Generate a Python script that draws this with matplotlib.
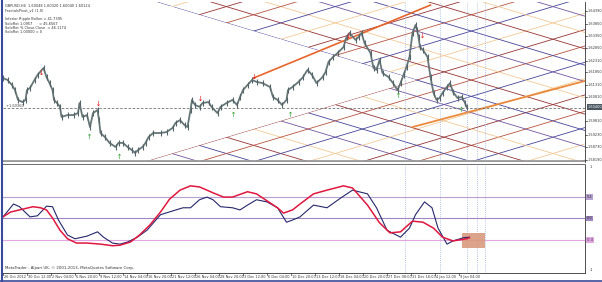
import matplotlib
matplotlib.use("Agg")
import matplotlib.pyplot as plt
import numpy as np
from matplotlib.patches import Rectangle, Polygon
from matplotlib.transforms import blended_transform_factory

# ---------------- data ----------------
price_bar = [0, 3, 6, 8, 10, 13, 15, 16, 18, 21, 23, 27, 29, 31, 33, 34, 36, 38, 39, 43,
             47, 50, 51, 53, 56, 58, 60, 63, 64, 65, 68, 71, 75, 77, 80, 83, 86, 88, 90, 93,
             95, 97, 100, 105, 109, 113, 115, 118, 121, 123, 125, 126, 128, 131, 133, 137, 139, 143, 145, 149,
             153, 156, 158, 160, 163, 166, 169, 173, 178, 180, 183, 186, 189, 190, 193, 197, 200, 203, 206, 209,
             213, 215, 217, 220, 223, 227, 229, 231, 235, 237, 239, 241, 245, 247, 249, 251, 253, 257, 260, 263,
             265, 267, 269, 271, 273, 275, 276, 277, 278, 280, 283, 285, 287, 289, 291, 293, 296, 298, 300, 303,
             306, 308, 309]
price_close = [1.6160, 1.6152, 1.6131, 1.6110, 1.6069, 1.6060, 1.6069, 1.6110, 1.6119, 1.6152,
               1.6173, 1.6202, 1.6164, 1.6139, 1.6110, 1.6069, 1.6056, 1.6040, 1.5998, 1.6006,
               1.6006, 1.6014, 1.6056, 1.5998, 1.6006, 1.5956, 1.6014, 1.6027, 1.5985, 1.5931,
               1.5914, 1.5890, 1.5873, 1.5890, 1.5890, 1.5873, 1.5860, 1.5848, 1.5860, 1.5873,
               1.5890, 1.5914, 1.5931, 1.5931, 1.5935, 1.5952, 1.5973, 1.5985, 1.5964, 1.5956,
               1.6027, 1.6069, 1.6048, 1.6040, 1.6056, 1.6060, 1.6040, 1.6014, 1.6040, 1.6056,
               1.6069, 1.6048, 1.6081, 1.6110, 1.6131, 1.6152, 1.6144, 1.6139, 1.6123, 1.6081,
               1.6069, 1.6048, 1.6069, 1.6110, 1.6123, 1.6144, 1.6164, 1.6194, 1.6173, 1.6139,
               1.6164, 1.6185, 1.6227, 1.6248, 1.6264, 1.6289, 1.6331, 1.6348, 1.6319, 1.6331,
               1.6348, 1.6306, 1.6264, 1.6202, 1.6194, 1.6235, 1.6181, 1.6164, 1.6139, 1.6110,
               1.6139, 1.6173, 1.6206, 1.6248, 1.6348, 1.6381, 1.6360, 1.6331, 1.6289, 1.6277,
               1.6248, 1.6164, 1.6098, 1.6069, 1.6077, 1.6098, 1.6123, 1.6139, 1.6102, 1.6077,
               1.6081, 1.6056, 1.6040]

osc_red_bar = [0, 5, 11, 20, 25, 29, 33, 38, 43, 49, 56, 65, 73, 78, 85, 91, 98, 105, 111, 118,
               125, 131, 140, 147, 153, 163, 169, 176, 183, 187, 193, 198, 207, 216, 227, 233, 243, 251, 258, 265,
               273, 280, 287, 293, 300, 309, 311]
osc_red = [0.03, 0.12, 0.16, 0.22, 0.20, 0.16, 0.01, -0.22, -0.38, -0.46, -0.46, -0.48, -0.51, -0.50, -0.44,
           -0.31, -0.12, 0.12, 0.36, 0.53, 0.61, 0.59, 0.48, 0.40, 0.40, 0.50, 0.46, 0.33, 0.20, 0.10,
           0.16, 0.27, 0.46, 0.53, 0.61, 0.57, 0.25, -0.08, -0.27, -0.25, -0.05, -0.07, -0.18, -0.35, -0.42,
           -0.38, -0.36]
osc_blue_bar = [0, 7, 11, 18, 23, 29, 33, 37, 43, 48, 56, 63, 67, 73, 78, 83, 89, 96, 105, 113,
                120, 125, 131, 136, 140, 145, 153, 158, 163, 169, 176, 183, 189, 193, 198, 207, 216, 225, 233, 243,
                249, 256, 265, 271, 275, 281, 286, 290, 296, 300, 307, 311]
osc_blue = [0.03, 0.27, 0.22, 0.03, 0.05, 0.23, 0.22, -0.03, -0.31, -0.38, -0.33, -0.25, -0.35, -0.46, -0.48,
            -0.44, -0.36, -0.22, 0.07, 0.14, 0.20, 0.20, 0.35, 0.40, 0.35, 0.22, 0.20, 0.16, 0.25, 0.35,
            0.31, 0.20, -0.07, -0.03, 0.03, 0.25, 0.20, 0.38, 0.53, 0.46, 0.20, -0.22, -0.35, -0.18, 0.07,
            0.31, 0.20, -0.18, -0.48, -0.42, -0.36, -0.35]
osc_levels = [0.4, 0.0, -0.4]
osc_level_labels = ["0.4", "0.0", "-0.4"]

price_ticks = [1.64390, 1.63850, 1.63350, 1.62850, 1.62310, 1.61850, 1.61310, 1.60810, 1.59810,
               1.59230, 1.58730, 1.58190]
current_price = 1.60400
hline_price = 1.60360

time_bars = [0, 16, 32, 48, 64, 80, 96, 112, 128, 144, 160, 176, 192, 208, 224, 240, 256, 272, 288, 304]
time_labels = ["26 Oct 2012", "30 Oct 12:00", "2 Nov 04:00", "6 Nov 20:00", "9 Nov 12:00",
               "14 Nov 04:00", "16 Nov 20:00", "21 Nov 12:00", "26 Nov 04:00", "28 Nov 20:00",
               "3 Dec 12:00", "6 Dec 04:00", "10 Dec 20:00", "13 Dec 12:00", "18 Dec 04:00",
               "20 Dec 20:00", "27 Dec 08:00", "31 Dec 16:00", "4 Jan 12:00", "9 Jan 04:00"]

frac_hi_bar = [25, 63, 131, 167, 230, 279]
frac_hi_price = [1.6185, 1.6056, 1.6077, 1.6168, 1.6340, 1.6340]
frac_lo_bar = [57, 77, 153, 191, 263, 305]
frac_lo_price = [1.5918, 1.5836, 1.6012, 1.6012, 1.6090, 1.6030]

vline_bars = [268, 291, 309, 316, 321]

# lattice (rising / falling parallel lines)
lattice_slope = 0.0001874           # price per bar
rise_anchor = (96, 1.58146)         # first rising boundary line passes here
fall_anchor = (98, 1.64851)         # first falling boundary line passes here
lattice_step = 0.0068
rise_colors = ["#963434", "#f1c995", "#45459a", "#b5533f"]
fall_colors = ["#45459a", "#963434", "#f1c995", "#74559e"]

trend_lines = [((167, 1.6160), (285, 1.6464), "#e8652a", 1.2),
               ((273, 1.5956), (388, 1.6148), "#ea8a3c", 1.3)]

box_bars = (306, 321)
box_vals = (-0.27, -0.55)

header_lines = ["GBPUSD,H4  1.60048 1.60320 1.60040 1.60124", "FractalsPivot_v1 (1.0)", "",
                "Inferior Ripple Bollon = 41.7395", "SoloRot 1.0957      = 45.6567",
                "SoloRot % Close.Close  = 46.1174", "SoloRot 1.00000 = 0"]

# ---------------- layout ----------------
W, H = 602, 282
fig = plt.figure(figsize=(6.02, 2.82), dpi=100)
fig.patch.set_facecolor("white")


def rect(x0, y0, x1, y1):
    return [x0 / W, 1 - y1 / H, (x1 - x0) / W, (y1 - y0) / H]


ax = fig.add_axes(rect(3, 2, 585, 162))
ax2 = fig.add_axes(rect(3, 165, 585, 273))
XMAX = 388
ax.set_xlim(0, XMAX)
ax2.set_xlim(0, XMAX)
PLO, PHI = 1.58104, 1.64768
ax.set_ylim(PLO, PHI)
ax2.set_ylim(-1.02, 1.0)

for a in (ax, ax2):
    a.set_facecolor("white")
    for s in ("top", "left", "bottom"):
        a.spines[s].set_visible(False)
    a.spines["right"].set_color("#333333")
    a.spines["right"].set_linewidth(0.6)
    a.set_xticks([])
    a.set_yticks([])
ax2.spines["bottom"].set_visible(True)
ax2.spines["bottom"].set_color("#333333")
ax2.spines["bottom"].set_linewidth(0.6)

# ---- lattice ----
xs = np.array([0, XMAX])
b0, p0 = rise_anchor
c_rise0 = p0 - lattice_slope * b0
b1, p1 = fall_anchor
c_fall0 = p1 + lattice_slope * b1
ks = np.arange(-25, 26)
for k in ks:
    c = c_rise0 + k * lattice_step
    ax.plot(xs, c + lattice_slope * xs, color=rise_colors[k % len(rise_colors)], lw=0.6, zorder=1)
    c2 = c_fall0 + k * lattice_step
    ax.plot(xs, c2 - lattice_slope * xs, color=fall_colors[k % len(fall_colors)], lw=0.6, zorder=1)

# mask wedge between the two boundary lines (left of their crossing)
bx = (c_fall0 - c_rise0) / (2 * lattice_slope)
by = c_rise0 + lattice_slope * bx
xl = -50
wedge = Polygon([(bx, by), (xl, c_fall0 - lattice_slope * xl), (xl, c_rise0 + lattice_slope * xl)],
                closed=True, facecolor="white", edgecolor="none", zorder=2)
ax.add_patch(wedge)

for (a0, a1, col, lw) in trend_lines:
    ax.plot([a0[0], a1[0]], [a0[1], a1[1]], color=col, lw=lw, zorder=3)

# bottom grey band
ax.axhline(PLO + 0.0004, color="#9a9a9a", lw=2.0, zorder=3)
# dashed horizontal line
ax.axhline(hline_price, color="#707070", lw=0.6, ls=(0, (3, 2)), zorder=4)
ax.text(2, hline_price + 0.0003, "+1.60360 ", fontsize=2.6, color="#404040", zorder=6)

# vertical dotted lines
for vb in vline_bars:
    ax.axvline(vb, color="#9cb4dc", lw=0.6, ls=(0, (1, 1.5)), zorder=4)
    ax2.axvline(vb, color="#9cb4dc", lw=0.6, ls=(0, (1, 1.5)), zorder=1)

# price bars
pb = np.array(price_bar)
pc = np.array(price_close)
ax.plot(pb, pc, color="#667676", lw=1.3, zorder=5)
ax.vlines(pb, pc - 0.0012, pc + 0.0012, color="#56646a", lw=0.8, zorder=5)

# fractals
ax.scatter(frac_hi_bar, frac_hi_price, marker=r"$\downarrow$", s=14, color="#e02020", zorder=6, linewidths=0)
ax.scatter(frac_lo_bar, frac_lo_price, marker=r"$\uparrow$", s=14, color="#30a030", zorder=6, linewidths=0)

# price axis labels
for p in price_ticks:
    ax.text(XMAX + 2, p, f"{p:.5f}", fontsize=2.5, color="#333333", va="center", ha="left", clip_on=False)
    ax.plot([XMAX, XMAX + 1.2], [p, p], color="#333333", lw=0.5, clip_on=False)
ax.text(XMAX + 1.5, current_price, f"{current_price:.5f}", fontsize=2.5, color="white", va="center", ha="left",
        clip_on=False, bbox=dict(boxstyle="square,pad=0.2", fc="#4b5661", ec="none"))

# header text
for i, t in enumerate(header_lines):
    ax.text(0.004, 0.985 - i * 0.027, t, transform=ax.transAxes, fontsize=2.5, color="#303030",
            va="top", ha="left", zorder=7)

# ---- oscillator ----
lvl_colors = ["#b7a1d3", "#9f86c3", "#e2a6e2"]
for lv, lc in zip(osc_levels, lvl_colors):
    ax2.axhline(lv, color=lc, lw=0.8, zorder=1)
ax2.add_patch(Rectangle((box_bars[0], box_vals[1]), box_bars[1] - box_bars[0], box_vals[0] - box_vals[1],
                        facecolor="#d99a7d", edgecolor="none", alpha=0.9, zorder=2))
ax2.plot(osc_blue_bar, osc_blue, color="#25286b", lw=0.8, zorder=3)
ax2.plot(osc_red_bar, osc_red, color="#e0173f", lw=1.1, zorder=4)

for lv, lab, lc in zip(osc_levels, osc_level_labels, lvl_colors):
    ax2.text(XMAX + 1, lv, lab, fontsize=2.5, color="#333333", va="center", ha="left", clip_on=False,
             bbox=dict(boxstyle="square,pad=0.2", fc=lc, ec="none"))
ax2.text(XMAX + 3, 0.96, "1", fontsize=2.6, color="#333333", va="center", ha="left", clip_on=False)
ax2.text(XMAX + 3, -0.97, "-1", fontsize=2.6, color="#333333", va="center", ha="left", clip_on=False)

ax2.text(0.004, 0.03, "MetaTrader - Alpari UK, \u00a9 2001-2013, MetaQuotes Software Corp.",
         transform=ax2.transAxes, fontsize=2.8, color="#303030", va="bottom", ha="left")

# time labels
tr = blended_transform_factory(ax2.transData, fig.transFigure)
for tb, tl in zip(time_bars, time_labels):
    ax2.plot([tb, tb], [1 - 273 / H, 1 - 275 / H], color="#333333", lw=0.5, clip_on=False, transform=tr)
    ax2.text(tb + 0.8, 1 - 277 / H, tl, fontsize=2.5, color="#333333", va="center", ha="left",
             clip_on=False, transform=tr)

# window frame
fig.add_artist(plt.Line2D([1.5 / W, 1.5 / W], [0, 1], color="#3a4a9a", lw=1.5))
fig.add_artist(plt.Line2D([0, 1], [1 - 280.5 / H, 1 - 280.5 / H], color="#3a4a9a", lw=1.2))
fig.add_artist(plt.Line2D([3 / W, 585 / W], [1 - 163.5 / H, 1 - 163.5 / H], color="#555555", lw=0.6))

fig.savefig("out.png", dpi=100, facecolor="white")
